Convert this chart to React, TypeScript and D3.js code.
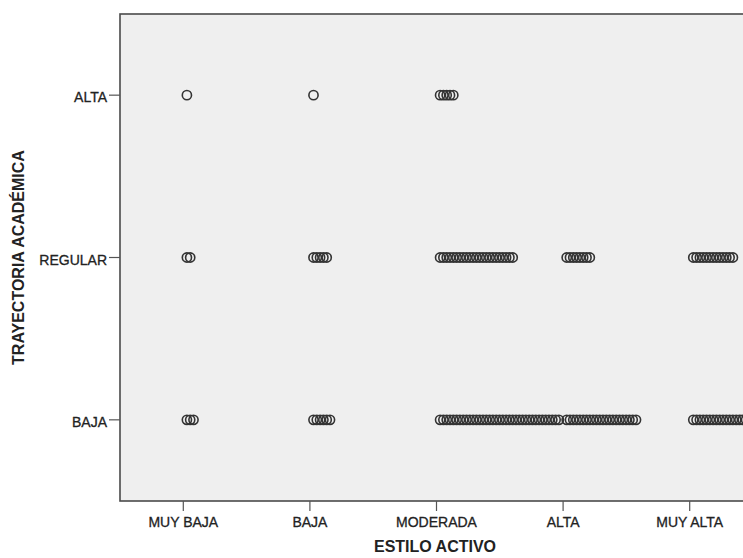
import React, { useEffect, useRef } from 'react';
import * as d3 from 'd3';

const estiloLevels = ['MUY BAJA', 'BAJA', 'MODERADA', 'ALTA', 'MUY ALTA'];
const trayectoriaLevels = ['BAJA', 'REGULAR', 'ALTA'];

// number of stacked cases per cell, one array per trayectoria level
const countsBaja = [3, 6, 37, 22, 20];
const countsRegular = [2, 5, 23, 8, 13];
const countsAlta = [1, 1, 5, 0, 0];

const width = 743;
const height = 558;
const left = 120;
const top = 14;
const bottom = 501;
const right = 753;

function App() {
  const ref = useRef<SVGSVGElement>(null);

  useEffect(() => {
    const svg = d3.select(ref.current);
    svg.selectAll('*').remove();

    const x = d3.scaleLinear().domain([0.5, 5.5]).range([left, right]);
    const y = d3.scaleLinear().domain([0.5, 3.5]).range([bottom, top]);

    svg.append('rect')
      .attr('x', left).attr('y', top)
      .attr('width', right - left).attr('height', bottom - top)
      .attr('fill', '#efefef')
      .attr('stroke', '#4a4a4a')
      .attr('stroke-width', 1.6);

    const rows = [countsBaja, countsRegular, countsAlta];
    const step = 3.3;
    const r = 4.6;
    const dots: { cx: number; cy: number }[] = [];
    rows.forEach((row, j) => {
      row.forEach((n, i) => {
        for (let k = 0; k < n; k++) {
          dots.push({ cx: x(i + 1) + r - 1 + k * step, cy: y(j + 1) });
        }
      });
    });

    svg.append('g').selectAll('circle').data(dots).join('circle')
      .attr('cx', d => d.cx)
      .attr('cy', d => d.cy)
      .attr('r', r)
      .attr('fill', 'none')
      .attr('stroke', '#333')
      .attr('stroke-width', 1.6);

    const font = 'Liberation Sans, Arial, sans-serif';

    // x axis ticks
    const gx = svg.append('g');
    estiloLevels.forEach((lab, i) => {
      gx.append('line')
        .attr('x1', x(i + 1)).attr('x2', x(i + 1))
        .attr('y1', bottom).attr('y2', bottom + 10)
        .attr('stroke', '#555').attr('stroke-width', 1.2);
      gx.append('text')
        .attr('x', x(i + 1)).attr('y', bottom + 26)
        .attr('text-anchor', 'middle')
        .style('font-family', font)
        .style('font-size', '14px')
        .attr('fill', '#222')
        .attr('stroke', '#222').attr('stroke-width', 0.3)
        .text(lab);
    });

    // y axis ticks
    const gy = svg.append('g');
    trayectoriaLevels.forEach((lab, j) => {
      gy.append('line')
        .attr('x1', left - 11).attr('x2', left)
        .attr('y1', y(j + 1)).attr('y2', y(j + 1))
        .attr('stroke', '#555').attr('stroke-width', 1.2);
      gy.append('text')
        .attr('x', left - 13).attr('y', y(j + 1) + 2)
        .attr('text-anchor', 'end')
        .attr('dominant-baseline', 'central')
        .style('font-family', font)
        .style('font-size', '14px')
        .attr('fill', '#222')
        .attr('stroke', '#222').attr('stroke-width', 0.3)
        .text(lab);
    });

    svg.append('text')
      .attr('x', 435).attr('y', 552)
      .attr('text-anchor', 'middle')
      .style('font-family', font)
      .style('font-size', '16px')
      .style('font-weight', 'bold')
      .attr('fill', '#222')
      .text('ESTILO ACTIVO');

    svg.append('text')
      .attr('transform', `translate(24,${y(2)}) rotate(-90)`)
      .attr('text-anchor', 'middle')
      .style('font-family', font)
      .style('font-size', '16px')
      .style('font-weight', 'bold')
      .attr('fill', '#222')
      .text('TRAYECTORIA ACADÉMICA');
  }, []);

  return (
    <svg
      ref={ref}
      width={width}
      height={height}
      style={{ position: 'absolute', left: 0, top: 0, background: '#fff' }}
    />
  );
}

export default App;
